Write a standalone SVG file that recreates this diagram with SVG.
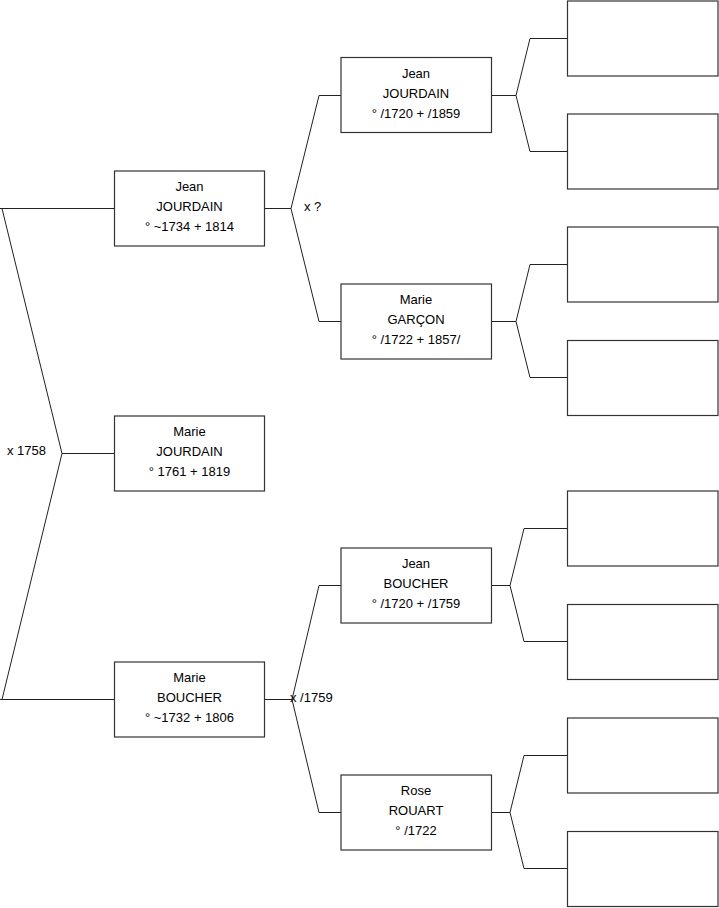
<svg xmlns="http://www.w3.org/2000/svg" width="719" height="908" viewBox="0 0 719 908">
<style>
.box{fill:#fff;stroke:#333;stroke-width:1.2}
.ln{fill:none;stroke:#222;stroke-width:1}
text{font-family:"Liberation Sans",Arial,sans-serif;font-size:13px;fill:#000}
.c{text-anchor:middle}
</style>
<rect width="719" height="908" fill="#fff"/>
<g id="connectors">
<polyline class="ln" points="114,208.5 0,208.5"/>
<polyline class="ln" points="2,208.5 62,453.5 114,453.5"/>
<polyline class="ln" points="62,453.5 2,699.5"/>
<polyline class="ln" points="0,699.5 114,699.5"/>
<polyline class="ln" points="319,95.5 291,208.5 265,208.5"/>
<polyline class="ln" points="341,95.5 319,95.5"/>
<polyline class="ln" points="291,208.5 319,321.5 341,321.5"/>
<polyline class="ln" points="341,585.5 319,585.5 292,699.5 265,699.5"/>
<polyline class="ln" points="292,699.5 319,812.5 341,812.5"/>
<polyline class="ln" points="568,38.5 530,38.5 516,95.5 492,95.5"/>
<polyline class="ln" points="516,95.5 530,151.5 568,151.5"/>
<polyline class="ln" points="568,264.5 530,264.5 516,321.5 492,321.5"/>
<polyline class="ln" points="516,321.5 530,377.5 568,377.5"/>
<polyline class="ln" points="568,528.5 524,528.5 510,585.5 492,585.5"/>
<polyline class="ln" points="510,585.5 524,641.5 568,641.5"/>
<polyline class="ln" points="568,755.5 524,755.5 510,812.5 492,812.5"/>
<polyline class="ln" points="510,812.5 524,868.5 568,868.5"/>
<text x="7" y="455">x 1758</text>
<text x="304" y="211">x ?</text>
<text x="290" y="702">x /1759</text>
</g>
<g id="n1"><rect class="box" x="114.5" y="171" width="150" height="75"/><text class="c" x="189.5" y="191">Jean</text><text class="c" x="189.5" y="211">JOURDAIN</text><text class="c" x="189.5" y="231">° ~1734 + 1814</text></g>
<g id="n0"><rect class="box" x="114.5" y="416" width="150" height="75"/><text class="c" x="189.5" y="436">Marie</text><text class="c" x="189.5" y="456">JOURDAIN</text><text class="c" x="189.5" y="476">° 1761 + 1819</text></g>
<g id="n2"><rect class="box" x="114.5" y="662" width="150" height="75"/><text class="c" x="189.5" y="682">Marie</text><text class="c" x="189.5" y="702">BOUCHER</text><text class="c" x="189.5" y="722">° ~1732 + 1806</text></g>
<g id="n3"><rect class="box" x="341" y="57.5" width="150.5" height="75"/><text class="c" x="416" y="78">Jean</text><text class="c" x="416" y="98">JOURDAIN</text><text class="c" x="416" y="118">° /1720 + /1859</text></g>
<g id="n4"><rect class="box" x="341" y="284" width="150.5" height="75"/><text class="c" x="416" y="304">Marie</text><text class="c" x="416" y="324">GARÇON</text><text class="c" x="416" y="344">° /1722 + 1857/</text></g>
<g id="n5"><rect class="box" x="341" y="548" width="150.5" height="75"/><text class="c" x="416" y="568">Jean</text><text class="c" x="416" y="588">BOUCHER</text><text class="c" x="416" y="608">° /1720 + /1759</text></g>
<g id="n6"><rect class="box" x="341" y="775" width="150.5" height="75"/><text class="c" x="416" y="795">Rose</text><text class="c" x="416" y="815">ROUART</text><text class="c" x="416" y="835">° /1722</text></g>
<g id="n7"><rect class="box" x="567.5" y="1" width="150.5" height="75"/></g>
<g id="n8"><rect class="box" x="567.5" y="114" width="150.5" height="75"/></g>
<g id="n9"><rect class="box" x="567.5" y="227" width="150.5" height="75"/></g>
<g id="n10"><rect class="box" x="567.5" y="340.5" width="150.5" height="75"/></g>
<g id="n11"><rect class="box" x="567.5" y="491" width="150.5" height="75"/></g>
<g id="n12"><rect class="box" x="567.5" y="604.5" width="150.5" height="75"/></g>
<g id="n13"><rect class="box" x="567.5" y="718" width="150.5" height="75"/></g>
<g id="n14"><rect class="box" x="567.5" y="831.5" width="150.5" height="75"/></g>
</svg>
